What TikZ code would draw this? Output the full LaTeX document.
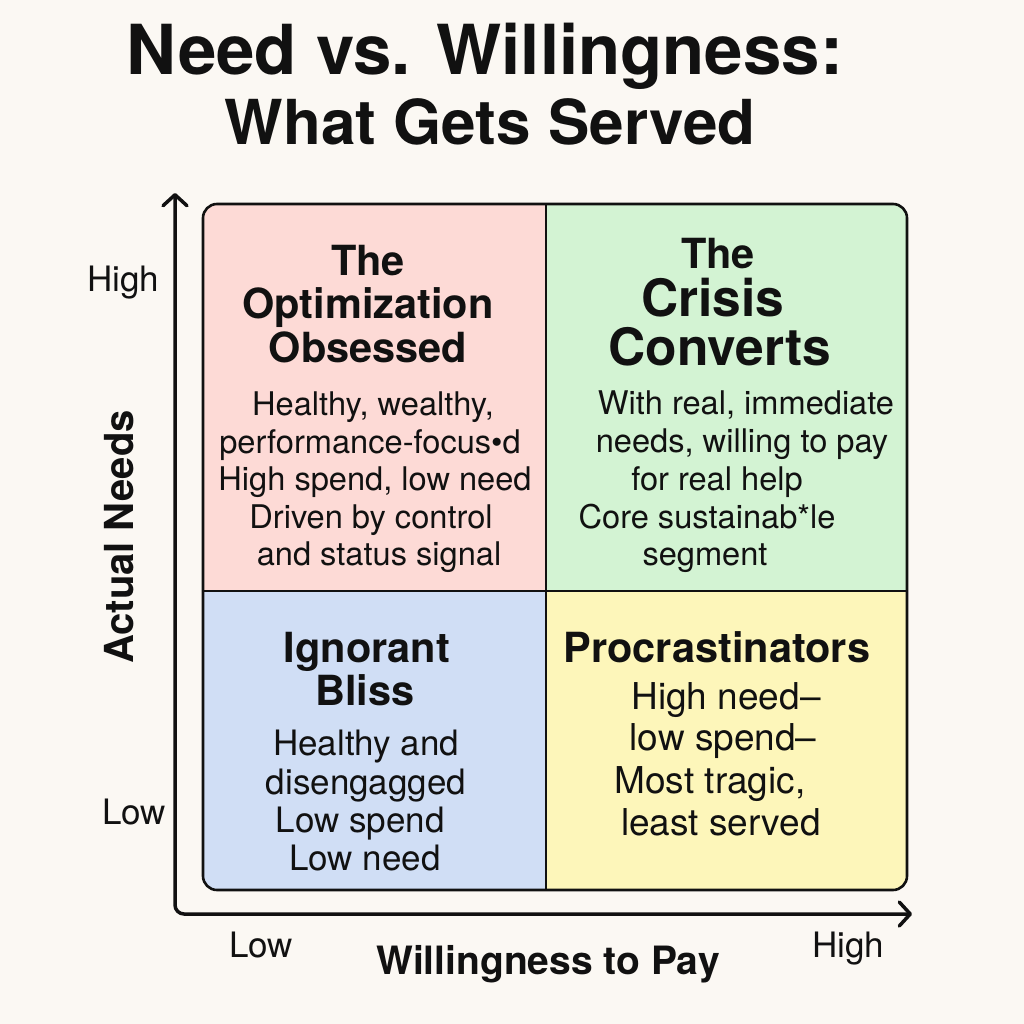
\documentclass[tikz,border=0pt]{standalone}
\usepackage{fontspec}
\setmainfont{TeX Gyre Heros}
\usetikzlibrary{arrows.meta}
\definecolor{bg}{HTML}{FBF8F3}
\definecolor{qpink}{HTML}{FDDAD6}
\definecolor{qgreen}{HTML}{D3F3D3}
\definecolor{qblue}{HTML}{D0DEF5}
\definecolor{qyellow}{HTML}{FDF6BA}
\definecolor{ink}{HTML}{111111}
\begin{document}
\begin{tikzpicture}[x=1pt,y=-1pt,
  every node/.style={inner sep=0pt, text=ink},
  ttl/.style={anchor=base, font=\fontsize{62}{62}\selectfont\bfseries},
  hd/.style={anchor=base, font=\fontsize{41.5}{44}\selectfont\bfseries},
  hdbig/.style={anchor=base, font=\fontsize{51.5}{54}\selectfont\bfseries},
  bd/.style={anchor=base, font=\fontsize{32.6}{36}\selectfont},
  bdl/.style={anchor=base, font=\fontsize{35}{38}\selectfont},
  bdr/.style={anchor=base, font=\fontsize{37}{40}\selectfont},
  tick/.style={anchor=base, font=\fontsize{35}{38}\selectfont},
  axlab/.style={font=\fontsize{40}{42}\selectfont\bfseries},
  axis/.style={line width=3.5pt, draw=ink, rounded corners=9pt,
    arrows={Straight Barb[length=11pt,width=24pt,round]-Straight Barb[length=11pt,width=24pt,round]}},
  frame/.style={line width=2.6pt, draw=ink},
  divider/.style={line width=2pt, draw=ink}]
\useasboundingbox (0,0) rectangle (1024,1024);
\fill[bg] (0,0) rectangle (1024,1024);

% title
\node[ttl, font=\fontsize{69}{69}\selectfont\bfseries] (t1) at (485,75) {Need vs. Willingness:};
\node[ttl] (t2) at (490,145) {What Gets Served};

% quadrant fills
\begin{scope}
  \clip[rounded corners=14pt] (203,204) rectangle (907,890);
  \fill[qpink]   (203,204) rectangle (546,591);
  \fill[qgreen]  (546,204) rectangle (907,591);
  \fill[qblue]   (203,591) rectangle (546,890);
  \fill[qyellow] (546,591) rectangle (907,890);
\end{scope}
\coordinate (dtop) at (546,204);
\coordinate (dbot) at (546,890);
\coordinate (dleft) at (203,591);
\coordinate (dright) at (907,591);
\draw[divider] (dtop) -- (dbot);
\draw[divider] (dleft) -- (dright);
\draw[frame, rounded corners=14pt] (203,204) rectangle (907,890);

% axes
\coordinate (ytip) at (175,193);
\coordinate (origin) at (175,914);
\coordinate (xtip) at (912,914);
\draw[axis] (ytip) -- (origin) -- (xtip);

% top-left
\node[hd] (tl1) at (368,275) {The};
\node[hd] (tl2) at (368,318) {Optimization};
\node[hd] (tl3) at (368,362) {Obsessed};
\node[bd] (tlb1) at (373,415) {Healthy, wealthy,};
\node[bd] (tlb2) at (370,453) {performance-focus•d};
\node[bd] (tlb3) at (375,490) {High spend, low need};
\node[bd] (tlb4) at (371,528) {Driven by control};
\node[bd] (tlb5) at (379,565) {and status signal};

% top-right
\node[hd] (tr1) at (718,268) {The};
\node[hdbig] (tr2) at (713,316) {Crisis};
\node[hdbig] (tr3) at (720,365) {Converts};
\node[bd] (trb1) at (746,414) {With real, immediate};
\node[bd] (trb2) at (742,452) {needs, willing to pay};
\node[bd] (trb3) at (717,490) {for real help};
\node[bd] (trb4) at (707,528) {Core sustainab*le};
\node[bd] (trb5) at (705,565) {segment};

% bottom-left
\node[hd] (bl1) at (367,662) {Ignorant};
\node[hd] (bl2) at (365,705) {Bliss};
\node[bdl] (blb1) at (366,755) {Healthy and};
\node[bdl] (blb2) at (366,794) {disengagged};
\node[bdl] (blb3) at (360,832) {Low spend};
\node[bdl] (blb4) at (365,870) {Low need};

% bottom-right
\node[hd] (br1) at (717,662) {Procrastinators};
\node[bdr] (brb1) at (726,709) {High need–};
\node[bdr] (brb2) at (723,750) {low spend–};
\node[bdr] (brb3) at (710,793) {Most tragic,};
\node[bdr] (brb4) at (721,835) {least served};

% ticks and axis labels
\node[tick] (yhigh) at (123,291) {High};
\node[tick] (ylow) at (134,824) {Low};
\node[tick] (xlow) at (261,957) {Low};
\node[tick] (xhigh) at (848,957) {High};
\node[axlab, rotate=90] (ylab) at (119,537) {Actual Needs};
\node[axlab, anchor=base, font=\fontsize{39}{42}\selectfont\bfseries] (xlab) at (548,974) {Willingness to Pay};
\end{tikzpicture}
\end{document}
